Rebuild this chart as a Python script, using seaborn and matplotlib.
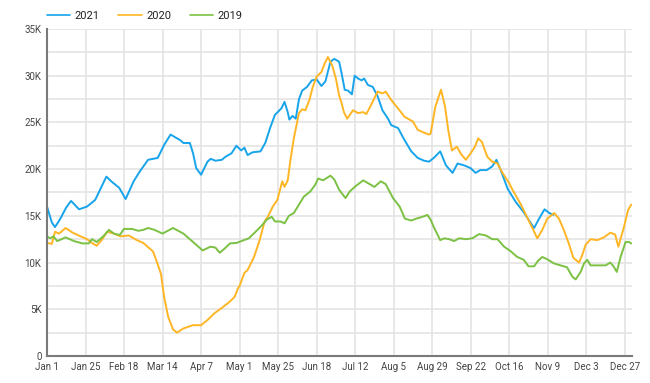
import numpy as np
import pandas as pd
import matplotlib
matplotlib.use("Agg")
import matplotlib.pyplot as plt
from matplotlib.lines import Line2D
import seaborn as sns
from matplotlib.ticker import MultipleLocator, FuncFormatter

# values (day of year, thousands)
days_2021 = [0, 3, 5, 8, 12, 15, 20, 25, 30, 37, 40, 45, 49, 54, 58, 63, 69, 73, 77, 83, 85,
             89, 91, 93, 96, 100, 102, 105, 109, 111, 115, 118, 121, 123, 125, 128, 133, 136,
             139, 142, 146, 148, 150, 151, 153, 155, 157, 159, 162, 165, 168, 171, 173.5,
             176.6, 179, 182, 183.5, 185.5, 187.6, 190, 191.7, 193.8, 196, 197.6, 200, 203,
             206, 209, 212.5, 214.5, 218.7, 222.8, 227, 231, 235, 238, 241, 245, 248.6, 252.7,
             255.8, 260, 264, 267, 270, 274, 277.5, 280, 282.7, 287, 292, 297, 300, 303.5,
             306.6, 310, 313, 315.5]
vals_2021 = [16.0, 14.3, 13.8, 14.6, 15.9, 16.6, 15.7, 16.0, 16.7, 19.2, 18.7, 18.0, 16.8,
             18.7, 19.8, 21.0, 21.2, 22.6, 23.7, 23.1, 22.8, 22.8, 21.7, 20.1, 19.4, 20.8,
             21.1, 20.9, 21.0, 21.3, 21.7, 22.5, 22.0, 22.3, 21.5, 21.8, 21.9, 22.8, 24.4,
             25.8, 26.5, 27.2, 26.1, 25.3, 25.7, 25.4, 27.5, 28.4, 28.8, 29.5, 29.6, 28.9,
             29.4, 31.5, 31.8, 31.5, 30.3, 28.5, 28.4, 28.0, 30.0, 29.7, 29.5, 29.7, 29.0,
             28.8, 27.8, 26.3, 25.4, 24.7, 24.4, 23.1, 21.9, 21.2, 20.9, 20.8, 21.2, 21.9,
             20.4, 19.6, 20.6, 20.4, 20.1, 19.6, 19.9, 19.9, 20.3, 21.0, 19.9, 17.9, 16.5,
             15.4, 14.6, 13.7, 14.7, 15.7, 15.3, 15.1]

days_2020 = [0, 3, 5, 7.5, 11.6, 16, 21, 25, 28, 31, 34, 37.5, 41.7, 45.8, 51, 56, 60, 62,
             66, 68, 71, 73, 75.5, 78.5, 81, 85, 91, 96, 100, 104.5, 108.6, 113.8, 117, 119,
             120, 123, 125, 129, 132.5, 135.6, 137.6, 140.7, 143.5, 146.6, 148, 150, 151.7,
             153.8, 157, 159, 161, 163.5, 165.6, 168, 171, 173, 175, 177.7, 180, 182, 183.5,
             185, 187, 190.7, 193.8, 197, 199, 202, 206, 209, 211, 214.5, 218.7, 222.8, 228,
             231, 235, 238, 239, 242, 245.5, 248, 250, 252.3, 255.4, 258, 261, 264, 266.6,
             268.7, 271, 274.4, 277.5, 280.7, 283.8, 288, 290, 295, 299, 302.4, 305.5, 308.6,
             311.7, 316, 319, 322, 325, 328, 331.5, 333.5, 335.6, 338.7, 342.9, 347, 351, 354,
             356, 359.5, 362, 364]
vals_2020 = [12.1, 12.0, 13.3, 13.1, 13.7, 13.2, 12.8, 12.5, 12.1, 11.8, 12.4, 13.3, 13.1,
             12.8, 12.9, 12.4, 12.1, 11.8, 11.2, 10.3, 8.8, 6.3, 4.2, 2.85, 2.5, 2.95, 3.3,
             3.3, 3.85, 4.6, 5.1, 5.8, 6.35, 7.25, 7.5, 8.9, 9.2, 10.6, 12.4, 14.4, 14.9, 16.0,
             16.7, 18.7, 18.1, 18.8, 21.0, 23.3, 26.0, 26.4, 26.3, 27.4, 28.8, 29.9, 30.4,
             31.3, 32.0, 31.1, 29.7, 27.9, 27.1, 26.1, 25.4, 26.3, 26.0, 26.1, 25.9, 26.9,
             28.3, 28.1, 28.3, 27.4, 26.5, 25.6, 25.1, 24.2, 23.9, 23.7, 23.8, 26.7, 28.5,
             26.7, 24.2, 22.0, 22.4, 21.6, 21.0, 21.7, 22.4, 23.3, 22.9, 21.3, 20.8, 20.6,
             19.6, 18.5, 17.8, 16.3, 14.9, 13.7, 12.6, 13.5, 14.7, 15.3, 14.7, 13.5, 12.1,
             10.5, 10.0, 10.8, 11.9, 12.5, 12.4, 12.7, 13.2, 13.0, 11.7, 13.8, 15.6, 16.2]

days_2019 = [0, 2, 4, 6.4, 11.6, 16.8, 22, 26, 28, 31, 35, 38.6, 41.7, 45.4, 47.9, 53, 57,
             60, 63, 67, 72, 78.5, 85, 91, 97, 101.8, 105, 107.6, 110.7, 114, 118, 122.7,
             125.8, 130, 134, 137, 140, 142, 145.5, 148, 150.7, 153.8, 157, 160, 164, 167,
             169, 172, 176.6, 179, 182, 186, 188.6, 191.7, 197, 201, 204, 208, 211, 215.6,
             219.7, 223, 227, 230, 234, 237, 239, 241, 245, 247.5, 250.6, 253.7, 256.8, 261,
             265, 269.3, 273.4, 277.5, 280.7, 284.8, 289, 293, 297, 300, 303.5, 306, 308.6,
             311.7, 316, 320, 324, 327.3, 329.4, 332.5, 334.6, 336.6, 338.7, 342.9, 348, 351,
             353, 355, 357.4, 360.5, 362.6, 364]
vals_2019 = [12.8, 12.6, 12.8, 12.3, 12.7, 12.3, 12.05, 12.05, 12.5, 12.2, 12.8, 13.5, 13.1,
             12.95, 13.6, 13.6, 13.4, 13.5, 13.7, 13.5, 13.1, 13.7, 13.1, 12.2, 11.3, 11.7,
             11.6, 11.05, 11.5, 12.05, 12.1, 12.4, 12.6, 13.3, 14.0, 14.6, 14.9, 14.4, 14.4,
             14.2, 15.0, 15.3, 16.2, 17.05, 17.6, 18.3, 19.0, 18.8, 19.3, 18.9, 17.8, 16.9,
             17.6, 18.1, 18.8, 18.4, 18.1, 18.7, 18.4, 16.9, 16.0, 14.7, 14.5, 14.7, 14.9,
             15.1, 14.6, 13.8, 12.4, 12.6, 12.5, 12.3, 12.6, 12.5, 12.6, 13.05, 12.9, 12.5,
             12.5, 11.7, 11.2, 10.6, 10.3, 9.6, 9.6, 10.2, 10.6, 10.35, 9.9, 9.7, 9.5, 8.5,
             8.2, 9.0, 9.9, 10.3, 9.7, 9.7, 9.7, 10.0, 9.6, 9.0, 10.6, 12.2, 12.2, 12.05]

years = ["2021", "2020", "2019"]
colors = ["#17a4ea", "#ffb524", "#7bc143"]

tick_days = [0, 24, 48, 72, 96, 120, 144, 168, 192, 216, 240, 264, 288, 312, 336, 360]
tick_labels = ["Jan 1", "Jan 25", "Feb 18", "Mar 14", "Apr 7", "May 1", "May 25", "Jun 18",
               "Jul 12", "Aug 5", "Aug 29", "Sep 22", "Oct 16", "Nov 9", "Dec 3", "Dec 27"]

df = pd.concat([
    pd.DataFrame({"day": days_2021, "value": np.array(vals_2021) * 1000, "year": "2021"}),
    pd.DataFrame({"day": days_2020, "value": np.array(vals_2020) * 1000, "year": "2020"}),
    pd.DataFrame({"day": days_2019, "value": np.array(vals_2019) * 1000, "year": "2019"}),
])

sns.set_style("white")
plt.rcParams["font.family"] = ["Roboto", "DejaVu Sans"]

fig = plt.figure(figsize=(6.5, 3.83), dpi=100)
ax = fig.add_axes([0.0723, 0.0705, 0.9, 0.8538])

palette = dict(zip(years, colors))
sns.lineplot(data=df, x="day", y="value", hue="year", hue_order=years, palette=palette,
             linewidth=1.4, ax=ax, legend=False)

ax.set_xlim(0, 364.5)
ax.set_ylim(0, 35000)
ax.set_xticks(tick_days)
ax.set_xticklabels(tick_labels)
ax.yaxis.set_major_locator(MultipleLocator(5000))
ax.yaxis.set_minor_locator(MultipleLocator(2500))
ax.yaxis.set_major_formatter(FuncFormatter(lambda v, p: "0" if v == 0 else f"{int(v/1000)}K"))
ax.grid(True, which="major", color="#e4e4e4", linewidth=1.2)
ax.grid(True, which="minor", axis="y", color="#e4e4e4", linewidth=1.2)
ax.set_axisbelow(True)
ax.tick_params(axis="both", which="both", length=0, labelsize=7, colors="#444444", pad=4)
ax.set_xlabel("")
ax.set_ylabel("")

for s in ["top", "right"]:
    ax.spines[s].set_visible(False)
for s in ["left", "bottom"]:
    ax.spines[s].set_color("#7a7a7a")
    ax.spines[s].set_linewidth(1.5)

# legend across the top, starting at the left edge of the plot
handles = [Line2D([], [], color=c, linewidth=1.2) for c in colors]
leg = fig.legend(handles, years, loc="center left", bbox_to_anchor=(47 / 650, 1 - 16 / 383),
                 ncol=3, frameon=False, fontsize=8, handlelength=2.1, handletextpad=0.39,
                 columnspacing=1.68, borderpad=0, borderaxespad=0)
for t in leg.get_texts():
    t.set_color("#222222")

fig.savefig("out.png", dpi=100)
